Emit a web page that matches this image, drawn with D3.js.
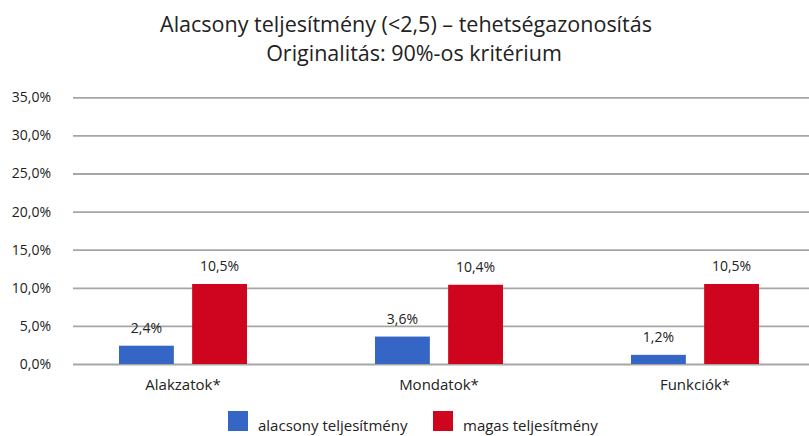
<!DOCTYPE html>
<html><head><meta charset="utf-8">
<script src="https://cdn.jsdelivr.net/npm/d3@7"></script>
<style>body{margin:0;background:#fff}svg{display:block}text{font-family:"Open Sans",sans-serif;fill:#222}</style>
</head><body><svg id="c" width="809" height="436"></svg>
<script>
const categories = ["Alakzatok*", "Mondatok*", "Funkciók*"];
const seriesNames = ["alacsony teljesítmény", "magas teljesítmény"];
const lowValues = [2.4, 3.6, 1.2];
const highValues = [10.5, 10.4, 10.5];
const yTicks = [0, 5, 10, 15, 20, 25, 30, 35];
const titleLines = ["Alacsony teljesítmény (<2,5) – tehetségazonosítás", "Originalitás: 90%-os kritérium"];
const colors = ["#3565c5", "#cf0520"];

const svg = d3.select("#c");
const fmt = v => v.toFixed(1).replace(".", ",") + "%";
const y = d3.scaleLinear().domain([0, 35]).range([364, 97.3]);
const x0 = d3.scaleBand().domain(categories).range([55, 823]).paddingInner(0).paddingOuter(0);
const x1 = d3.scaleBand().domain([0, 1]).range([0, 128]).paddingInner(0.25).paddingOuter(0);

svg.selectAll("text.title").data(titleLines).enter().append("text")
  .attr("x", (d, i) => i === 0 ? 406 : 414).attr("y", (d, i) => 32 + i * 29).attr("text-anchor", "middle")
  .style("font-size", "21.5px").text(d => d);

const yAxis = d3.axisLeft(y).tickValues(yTicks).tickFormat(fmt).tickSize(-(809 - 73)).tickPadding(22);
const ga = svg.append("g").attr("transform", "translate(73,0)").call(yAxis);
ga.select(".domain").remove();
ga.selectAll(".tick line").attr("stroke", "#a6a6a6").attr("stroke-width", 1.8);
ga.selectAll(".tick text").style("font-size", "14px").style("font-family", "'Open Sans',sans-serif").attr("fill", "#222");

const data = categories.map((c, i) => ({ c, vals: [lowValues[i], highValues[i]] }));
const groups = svg.selectAll("g.grp").data(data).enter().append("g")
  .attr("transform", d => `translate(${x0(d.c) + x0.bandwidth() / 2 - 64},0)`);
groups.selectAll("rect").data(d => d.vals).enter().append("rect")
  .attr("x", (d, i) => x1(i)).attr("width", x1.bandwidth())
  .attr("y", d => y(d)).attr("height", d => y(0) - y(d))
  .attr("fill", (d, i) => colors[i]);
groups.selectAll("text.lbl").data(d => d.vals).enter().append("text")
  .attr("x", (d, i) => x1(i) + x1.bandwidth() / 2).attr("y", d => y(d) - 13)
  .attr("text-anchor", "middle").style("font-size", "14px").text(d => fmt(d));

const xAxis = d3.axisBottom(x0).tickSize(0).tickPadding(15);
const gx = svg.append("g").attr("transform", "translate(0,364)").call(xAxis);
gx.select(".domain").remove();
gx.selectAll(".tick text").style("font-size", "15px").style("font-family", "'Open Sans',sans-serif").attr("fill", "#222");

const legX = [228, 433];
const lg = svg.selectAll("g.leg").data(seriesNames).enter().append("g")
  .attr("transform", (d, i) => `translate(${legX[i]},411)`);
lg.append("rect").attr("width", 20).attr("height", 20).attr("fill", (d, i) => colors[i]);
lg.append("text").attr("x", 30).attr("y", 20).style("font-size", "15px").text(d => d);
</script></body></html>
